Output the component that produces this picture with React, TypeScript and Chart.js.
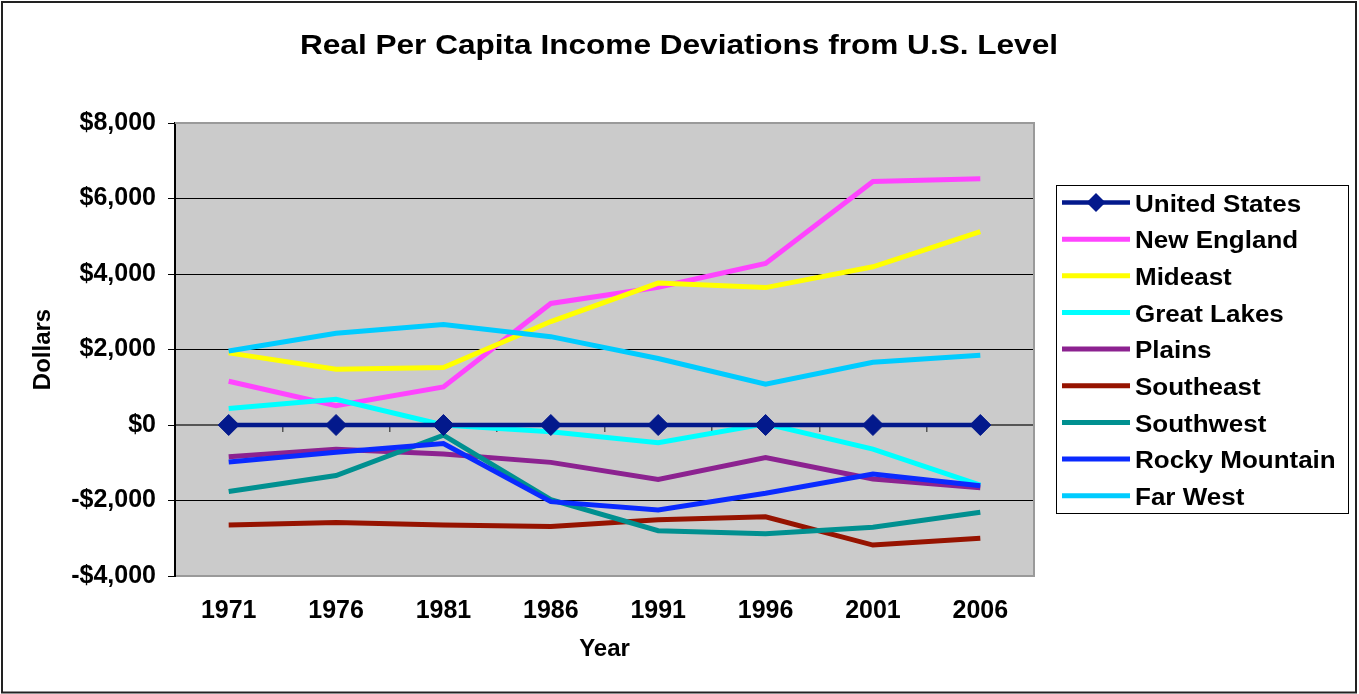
import React, { useEffect, useRef } from 'react';
import { Chart, registerables } from 'chart.js';

Chart.register(...registerables);

const years = ['1971', '1976', '1981', '1986', '1991', '1996', '2001', '2006'];
const unitedStates = [0, 0, 0, 0, 0, 0, 0, 0];
const newEngland = [1160, 510, 1010, 3220, 3650, 4280, 6450, 6520];
const mideast = [1910, 1480, 1520, 2740, 3760, 3640, 4190, 5120];
const greatLakes = [440, 680, 0, -180, -470, 30, -640, -1590];
const plains = [-840, -640, -770, -990, -1440, -860, -1430, -1660];
const southeast = [-2650, -2580, -2650, -2690, -2510, -2430, -3180, -3000];
const southwest = [-1760, -1340, -270, -1980, -2800, -2880, -2710, -2310];
const rockyMountain = [-980, -720, -490, -2030, -2250, -1810, -1300, -1610];
const farWest = [1960, 2430, 2660, 2340, 1760, 1080, 1660, 1850];

const seriesNames = ['United States', 'New England', 'Mideast', 'Great Lakes', 'Plains', 'Southeast', 'Southwest', 'Rocky Mountain', 'Far West'];
const seriesValues = [unitedStates, newEngland, mideast, greatLakes, plains, southeast, southwest, rockyMountain, farWest];
const seriesColors = ['#03198c', '#ff44ff', '#ffff00', '#00ffff', '#8c2290', '#961300', '#009090', '#0a2aff', '#00ccff'];

const yMin = -4000;
const yMax = 8000;
const yStep = 2000;

const chartTitle = 'Real Per Capita Income Deviations from U.S. Level';
const yAxisTitle = 'Dollars';
const xAxisTitle = 'Year';

const FONT = '"Liberation Sans", Arial, Helvetica, sans-serif';

function formatDollars(v: number): string {
  const abs = Math.abs(v).toLocaleString('en-US');
  return (v < 0 ? '-$' : '$') + abs;
}

const plotBackground = {
  id: 'plotBackground',
  beforeDraw(chart: any) {
    const { ctx, chartArea: a } = chart;
    ctx.save();
    ctx.fillStyle = '#cbcbcb';
    ctx.fillRect(a.left, a.top, a.right - a.left, a.bottom - a.top);
    ctx.restore();
  },
  beforeDatasetsDraw(chart: any) {
    const { ctx, chartArea: a } = chart;
    ctx.save();
    ctx.strokeStyle = '#9a9a9a';
    ctx.lineWidth = 2;
    ctx.beginPath();
    ctx.moveTo(a.left, a.top);
    ctx.lineTo(a.right, a.top);
    ctx.lineTo(a.right, a.bottom);
    ctx.lineTo(a.left + 1, a.bottom);
    ctx.stroke();
    ctx.restore();
  },
};

const decorations = {
  id: 'decorations',
  afterDraw(chart: any) {
    const { ctx } = chart;
    ctx.save();
    // outer border
    ctx.strokeStyle = '#222';
    ctx.lineWidth = 2;
    ctx.strokeRect(2, 2, 1354, 690.5);

    // title
    ctx.fillStyle = '#000';
    ctx.font = `bold 28px ${FONT}`;
    ctx.textAlign = 'center';
    ctx.textBaseline = 'alphabetic';
    const tw = ctx.measureText(chartTitle).width;
    ctx.save();
    ctx.translate(679, 54);
    ctx.scale(758 / tw, 1);
    ctx.fillText(chartTitle, 0, 0);
    ctx.restore();

    // legend
    const lx = 1056, ly = 185, lw = 293, lh = 329;
    ctx.fillStyle = '#fff';
    ctx.fillRect(lx, ly, lw, lh);
    ctx.strokeStyle = '#000';
    ctx.lineWidth = 1;
    ctx.strokeRect(lx + 0.5, ly + 0.5, lw - 1, lh - 1);
    chart.data.datasets.forEach((d: any, i: number) => {
      const y = 202.5 + i * 36.65;
      ctx.strokeStyle = d.borderColor;
      ctx.lineWidth = d.borderWidth;
      ctx.beginPath();
      ctx.moveTo(1062, y);
      ctx.lineTo(1130, y);
      ctx.stroke();
      if (d.pointRadius > 0) {
        const r = 9.5;
        const cx = 1096;
        ctx.fillStyle = d.pointBackgroundColor;
        ctx.beginPath();
        ctx.moveTo(cx, y - r);
        ctx.lineTo(cx + r, y);
        ctx.lineTo(cx, y + r);
        ctx.lineTo(cx - r, y);
        ctx.closePath();
        ctx.fill();
      }
      ctx.save();
      ctx.translate(1135, y + 9.3);
      ctx.scale(1.13, 1);
      ctx.font = `bold 23px ${FONT}`;
      ctx.fillStyle = '#000';
      ctx.textAlign = 'left';
      ctx.textBaseline = 'alphabetic';
      ctx.fillText(d.label, 0, 0);
      ctx.restore();
    });
    ctx.restore();
  },
};

export default function App() {
  const canvasRef = useRef<HTMLCanvasElement | null>(null);

  useEffect(() => {
    const canvas = canvasRef.current;
    if (!canvas) return;
    const n = seriesNames.length;
    const datasets = seriesNames.map((name, i) => {
      const isUS = i === 0;
      return {
        label: name,
        data: seriesValues[i],
        borderColor: seriesColors[i],
        backgroundColor: seriesColors[i],
        borderWidth: isUS ? 4.5 : 5,
        pointRadius: isUS ? 10.5 : 0,
        pointHoverRadius: isUS ? 10.5 : 0,
        pointStyle: 'rectRot',
        pointBackgroundColor: seriesColors[i],
        pointBorderColor: seriesColors[i],
        pointBorderWidth: 1,
        tension: 0,
        fill: false,
        order: isUS ? 0 : n - i,
      };
    });

    const chart = new Chart(canvas, {
      type: 'line',
      data: { labels: years, datasets },
      options: {
        animation: false,
        responsive: false,
        devicePixelRatio: 1,
        layout: { padding: { left: 0, top: 123, right: 325, bottom: 0 } },
        plugins: {
          legend: { display: false },
          title: { display: false },
          tooltip: { enabled: false },
        },
        scales: {
          x: {
            type: 'category',
            position: 'bottom',
            offset: true,
            grid: { display: false, drawTicks: false },
            border: { display: false },
            ticks: {
              color: '#000',
              padding: 20,
              maxRotation: 0,
              autoSkip: false,
              font: { family: FONT, size: 25, weight: 'bold' },
            },
            title: {
              display: true,
              text: xAxisTitle,
              color: '#000',
              font: { family: FONT, size: 24, weight: 'bold' },
              padding: { top: 0, bottom: 30 },
            },
            afterFit(scale: any) {
              scale.height = 118;
            },
          },
          x2: {
            type: 'category',
            axis: 'x',
            position: { y: 0 },
            offset: true,
            grid: {
              drawOnChartArea: false,
              drawTicks: true,
              tickLength: 6,
              color: '#555',
              lineWidth: 1.5,
              offset: true,
            },
            border: { display: true, color: '#555', width: 2 },
            ticks: { display: false },
          },
          y: {
            type: 'linear',
            position: 'left',
            min: yMin,
            max: yMax,
            ticks: {
              stepSize: yStep,
              color: '#000',
              padding: 12,
              font: { family: FONT, size: 25, weight: 'bold' },
              callback: (v: any) => formatDollars(Number(v)),
            },
            grid: {
              color: (c: any) => (c.tick && (c.tick.value === yMax || c.tick.value === yMin) ? '#9a9a9a' : '#000'),
              lineWidth: 1,
              drawTicks: true,
              tickLength: 7,
              tickColor: '#000',
            },
            border: { display: true, color: '#000', width: 2 },
            title: {
              display: true,
              text: yAxisTitle,
              color: '#000',
              font: { family: FONT, size: 24, weight: 'bold' },
              padding: { top: 29, bottom: 0 },
            },
            afterFit(scale: any) {
              scale.width = 175;
            },
          },
        },
      } as any,
      plugins: [plotBackground, decorations],
    });

    return () => {
      chart.destroy();
    };
  }, []);

  return (
    <div style={{ position: 'fixed', left: 0, top: 0, width: 1359, height: 694, background: '#fff' }}>
      <canvas ref={canvasRef} width={1359} height={694} style={{ display: 'block' }} />
    </div>
  );
}
